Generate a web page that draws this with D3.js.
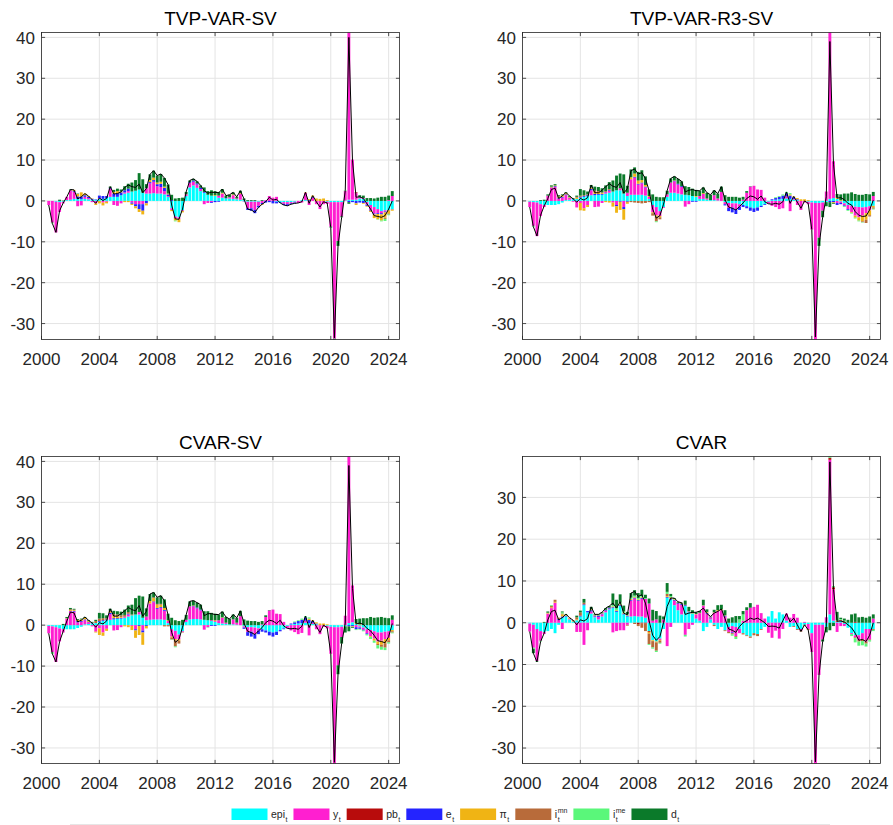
<!DOCTYPE html>
<html>
<head>
<meta charset="utf-8">
<script src="https://cdn.jsdelivr.net/npm/d3@7"></script>
<style>
  body { margin: 0; background: #fff; }
  svg { display: block; font-family: "Liberation Sans", Arial, sans-serif; }
</style>
</head>
<body>
<svg id="chart" width="893" height="825"></svg>
<script>
// quarterly historical decomposition, 2000Q3 .. 2024Q2 (one row per year)
const FIRST_QUARTER = 2000.5;
const N_QUARTERS = 96;

const xTicks = [2000, 2004, 2008, 2012, 2016, 2020, 2024];
const yTicks = [-30, -20, -10, 0, 10, 20, 30, 40];

const seriesKeys = ["epi", "y", "pb", "e", "pi", "imn", "ime", "d"];
const seriesColors = ["#00ffff", "#ff1fd0", "#b80c0c", "#2424ff", "#f0b414", "#b86b3a", "#5af77a", "#0b7a2a"];
const legendLabels = [
  { base: "epi", sub: "t" }, { base: "y", sub: "t" }, { base: "pb", sub: "t" }, { base: "e", sub: "t" },
  { base: "π", sub: "t" }, { base: "i", sub: "t", sup: "mn" }, { base: "i", sub: "t", sup: "me" }, { base: "d", sub: "t" }
];

// ---------- TVP-VAR-SV ----------
const tvpEpi = [
  0, 0,
  -0.2, -0.3, -0.2, 0.2,
  0.3, 0.5, 0.5, 0.4,
  0.5, 0.4, 0.3, 0.3,
  0.5, 0.5, 0.7, 1.0,
  1.0, 1.0, 1.4, 1.8,
  2.0, 2.3, 2.5, 2.8,
  2.0, 1.8, 1.8, 1.9,
  1.8, 1.8, 1.6, 1.0,
  -1.8, -3.8, -4.0, -2.3,
  1.2, 3.3, 3.8, 3.2,
  2.4, 2.0, 1.5, 1.3,
  1.2, 0.8, 0.8, 0.6,
  0.6, 0.5, 0.4, 0.3,
  0.2, -0.2, -0.2, -0.2,
  -0.2, 0, 0, 0,
  0, -0.2, -0.3, -0.3,
  -0.3, -0.3, -0.2, 0,
  0.2, 0.2, 0, 0,
  0, 0, 0, -0.2,
  -0.3, -0.3, -0.3, -0.3,
  0.1, 0.3, 0.3, 0.3,
  0.6, 0.5, -0.3, -1.0,
  -1.5, -2.0, -2.5, -2.3,
  -2.2, -2.0
];
const tvpY = [
  -1.0, -5.3,
  -7.5, -2.4, -0.4, 0.8,
  2.3, 1.7, -1.3, -1.1,
  0.5, 0.3, -0.3, -0.6,
  0.2, -0.4, -0.2, 2.0,
  -1.0, -1.2, -0.6, 0.3,
  0.4, -0.4, -0.8, -0.8,
  -0.8, 1.3, 2.5, 2.8,
  1.8, 1.6, 0.8, 0.2,
  -0.4, -0.4, -0.4, -0.2,
  0.4, 1.1, 0.9, 0.8,
  0.5, -0.8, -0.5, -0.3,
  0.0, 0.5, 1.0, 0.0,
  0.3, 0.9, 0.2, 1.4,
  0.0, -1.6, -1.6, -2.0,
  -1.0, -0.5, 0.2, 1.2,
  0.8, 1.0, 0, -0.4,
  -0.5, -0.3, -0.2, -0.5,
  -0.4, 1.8, -1.0, 0.8,
  -0.8, -2.0, -0.8, -0.5,
  -6.0, -33.4, -9.5, -3.5,
  2.3, 40.9, 9.8, 1.6,
  0.3, 0.2, -0.6, -1.2,
  -1.6, -1.0, -0.5, -0.3,
  0.2, 1.2
];
const tvpPb = [
  0, 0,
  0, 0, 0, 0,  0, 0, 0, 0,  0, 0, 0, 0,  0, 0, 0, 0,  0, 0, 0, 0,
  0, 0, 0, 0,  0, 0, 0, 0,  0, 0, 0, 0,  0, 0, 0, 0,  0, 0, 0, 0,
  0, 0, 0, 0,  0, 0, 0, 0,  0, 0, 0, 0,  0, 0, 0, 0,  0, 0, 0, 0,
  0, 0, 0, 0,  0, 0, 0, 0,  0, 0, 0, 0,  0, 0, 0, 0,  0, 0, 0, 0,
  0, 0, 0, 0.2,
  0, 0, 0, 0,
  0, 0, 0, 0,
  0, 0
];
const tvpE = [
  0, 0,
  0, 0, 0, 0,
  0, 0.2, 0.6, 0.7,
  0.4, 0.3, 0.2, 0.1,
  0.6, 0.7, 0.5, 0.2,
  0.8, 0.9, 0.7, 0.5,
  0.6, -0.3, -0.5, -1.2,
  -1.6, -0.6, 0.3, 0.4,
  0.5, 0.8, 0.8, 0.4,
  0.2, 0, 0, 0,
  0, 0.2, 0.3, 0.3,
  0.3, 0.2, 0, -0.2,
  -0.3, -0.2, 0, 0.1,
  0, 0, 0, 0,
  -0.1, -0.4, -0.6, -0.8,
  -0.4, -0.3, -0.4, -0.3,
  -0.6, -0.4, -0.2, -0.3,
  -0.4, -0.2, -0.2, 0,
  0, 0, 0.2, 0.2,
  0, 0, 0, 0,
  0, 0, 0, 0,
  0, -0.3, -0.3, -0.6,
  -0.4, -0.5, -0.3, -0.2,
  -0.2, -0.2, -0.3, -0.2,
  -0.1, -0.1
];
const tvpPi = [
  0, 0,
  0, 0, 0, 0,
  0, 0.3, 0.6, 1.0,
  0.4, 0.2, 0.1, -0.4,
  -0.6, -0.7, -0.4, 0,
  0.4, 0.5, 0.2, -0.3,
  -0.3, -0.3, -0.5, -0.7,
  -0.9, -0.5, 0.5, 0.6,
  0.4, 0.5, 0.3, 0.2,
  -0.3, -0.6, -0.8, -0.3,
  0, 0, 0, 0,
  0, 0, 0, 0,
  0.2, 0, 0.2, 0,
  0, 0.2, 0, 0.2,
  0, 0, 0, 0,
  0, -0.2, 0, 0,
  0, 0, 0, 0,
  0, 0, 0, 0,
  0, 0.1, 0.2, 0.3,
  0.6, 0.5, 0.6, 0.2,
  0, 0, 0, 0,
  0, 0, 0, -0.4,
  0, -0.2, -0.2, -0.3,
  -0.9, -1.3, -1.5, -1.3,
  -0.8, -0.3
];
const tvpImn = [
  0, 0,
  0, 0, 0, 0,  0, 0, 0, 0,  0, 0, 0, 0,  0, 0, 0, 0,  0, 0, 0, 0,
  0, 0, 0, 0,  0, 0, 0, 0,  0, 0, 0, 0,  0, 0, 0, 0,  0, 0, 0, 0,
  0, 0, 0, 0,  0, 0, 0, 0,  0, 0, 0, 0,  0, 0, 0, 0,  0, 0, 0, 0,
  0, 0, 0, 0,  0, 0, 0, 0,  0, 0, 0, 0,  0, 0, 0, 0,  0, 0, 0, 0,
  0, 0, 0, 0,
  0, 0, 0, 0,
  0, 0, 0, -0.3,
  -0.2, 0
];
const tvpIme = [
  0, -0.2,
  0, 0, 0, 0,  0, 0, 0, 0,  0, 0, 0, 0,  0, 0, 0, 0,  0, 0, 0, 0,
  0, 0, 0, 0,  0, 0, 0, 0,  0, 0, 0, 0,
  0, -0.2, 0, 0,
  0, 0, 0, 0,
  0, 0, 0, 0,  0, 0, 0, 0,  0, 0, 0, 0,  0, 0, 0, 0,  0, 0, 0, 0,
  0, 0, 0, 0,  0, 0, 0, 0,  0, 0, 0, 0,  0, 0, 0, 0,  0, 0, 0, 0,
  0, 0, 0, 0,
  0, 0, 0, 0,
  0, -0.1, -0.2, -0.5,
  -0.2, 0
];
const tvpD = [
  0, 0,
  0, 0.3, 0.1, 0,
  0.2, 0, 0.1, 0,
  0, 0, 0, 0,
  0, 0, 0, 0.3,
  0.5, 0.6, 0.5, 1.0,
  1.2, 2.2, 2.6, 4.0,
  3.3, 1.0, 1.4, 1.7,
  1.7, 1.9, 2.1, 2.2,
  1.3, 0.6, 0.7, 0.8,
  0.6, 0.4, 0.4, 0.5,
  0.6, 1.1, 0.9, 1.3,
  1.0, 0.9, 0.9, 0.6,
  0.6, 0.5, 0.4, 0.6,
  0.4, 0.2, 0.2, 0.2,
  0, 0.2, 0, 0,
  0, 0, 0, 0,
  0, 0, 0, 0,
  0, 0, 0, 0,
  0, 0, 0, 0,
  -0.2, -0.2, -1.2, -0.2,
  0.1, -0.4, 0, 0,
  0.5, 0.6, 0.7, 0.7,
  0.6, 0.8, 1.0, 1.0,
  1.1, 1.2
];
const tvpTotal = [
  -1.0, -5.5,
  -7.7, -2.4, -0.5, 1.0,
  2.8, 2.7, 0.5, 1.0,
  1.8, 1.2, 0.3, -0.6,
  0.7, 0.1, 0.6, 3.5,
  1.7, 1.8, 2.2, 3.3,
  3.9, 3.5, 3.3, 4.1,
  2.0, 3.0, 6.5, 7.4,
  6.2, 6.6, 5.6, 4.0,
  -1.0, -4.4, -4.5, -2.0,
  2.2, 5.0, 5.4, 4.8,
  3.8, 2.5, 1.9, 2.1,
  2.1, 2.0, 2.9, 1.3,
  1.5, 2.1, 1.0, 2.5,
  0.5, -2.0, -2.2, -2.8,
  -1.6, -0.8, -0.2, 0.9,
  0.2, 0.4, -0.5, -1.0,
  -1.2, -0.8, -0.6, -0.5,
  -0.2, 2.1, -0.6, 1.3,
  -0.2, -1.5, -0.2, -0.5,
  -6.5, -33.5, -11.0, -4.0,
  2.5, 40.0, 9.8, 0.9,
  1.0, 0.6, -0.7, -2.0,
  -3.6, -3.8, -4.0, -3.6,
  -2.0, 0.0
];

// ---------- TVP-VAR-R3-SV ----------
const r3Epi = [
  -0.2, -0.3,
  -0.4, -0.8, -1.0, -1.0,
  -1.0, -1.0, -0.8, -0.4,
  0.2, 0.3, 0.4, 0.5,
  0.8, 1.0, 1.2, 1.4,
  1.4, 1.5, 1.5, 1.8,
  2.0, 2.3, 2.6, 2.6,
  1.8, 1.2, 1.5, 1.5,
  1.5, 1.5, 1.3, 0.5,
  -1.0, -1.5, -2.5, -1.5,
  1.0, 2.0, 2.0, 1.8,
  1.6, 1.5, 1.4, 1.2,
  1.0, 0.5, 0.5, 0.3,
  0.2, 0.2, 0.1, 0,
  -0.3, -0.5, -0.6, -0.6,
  -0.8, -1.0, -1.3, -1.6,
  -1.8, -1.6, -1.2, -0.8,
  -0.2, 0.2, 0.3, 0.4,
  0.5, 0.6, 0.5, 0.3,
  0.2, 0, 0, -0.2,
  -0.4, -0.5, -0.5, -0.4,
  -0.3, 0.5, 0.7, 0.5,
  -0.2, -0.6, -1.0, -1.2,
  -1.4, -1.5, -1.6, -1.5,
  -1.3, -1.2
];
const r3Y = [
  -1.3, -5.8,
  -8.2, -2.9, -0.5, 1.3,
  3.2, 3.4, 0.6, 0.8,
  1.2, 0.4, -0.2, -1.6,
  -0.5, -1.8, -1.0, 1.2,
  -1.5, -1.4, -0.5, 0.3,
  0.5, -0.4, -1.0, 0.5,
  -1.5, 0.8, 3.8, 4.2,
  2.5, 2.8, 2.0, 0.5,
  -1.8, -2.0, -1.2, -0.2,
  0.6, 2.5, 2.8, 2.2,
  1.8, -1.4, -0.8, 0.0,
  0.0, 0.7, 1.2, 0.3,
  0.0, 1.2, 0.5, 2.2,
  -0.5, -1.2, -1.0, -1.4,
  -0.6, 0.3, 2.0, 3.5,
  3.7, 2.8, 2.7, 0.8,
  -0.5, -1.2, -1.5, -2.0,
  -1.8, 0.5, -2.5, 0.2,
  -1.0, -2.2, -0.4, -0.6,
  -6.6, -33.4, -8.5, -2.0,
  2.3, 40.7, 9.0, -0.5,
  -0.3, -0.5, -1.0, -1.5,
  -2.2, -2.5, -2.0, -1.5,
  -1.0, 1.2
];
const r3Pb = [
  0, 0,
  0, 0, 0, 0,  0, 0, 0, 0,  0, 0, 0, 0,  0, 0, 0, 0,  0, 0, 0, 0,
  0, 0, 0, 0,  0, 0, 0, 0,  0, 0, 0, 0,  0, 0, 0, 0,  0, 0, 0, 0,
  0, 0, 0, 0,  0, 0, 0, 0,  0, 0, 0, 0,  0, 0, 0, 0,  0, 0, 0, 0,
  0, 0, 0, 0,  0, 0, 0, 0,  0, 0, 0, 0,  0, 0, 0, 0,  0, 0, 0, 0,
  0, 0, 0, 0,  0, 0, 0, 0,  0, 0, 0, 0,
  0, 0
];
const r3E = [
  0, 0,
  0, 0, 0, 0,
  0.1, 0.2, 0.2, 0.2,
  0.2, 0.1, 0.1, 0,
  0.2, 0.2, 0.2, 0.3,
  0.3, 0.2, 0.2, 0.1,
  0.2, 0, -0.3, -0.2,
  -0.5, -0.2, 0, 0.2,
  0.2, 0.2, 0.2, 0,
  0, 0, 0, 0,
  0, 0, 0.1, 0.2,
  0.2, 0, 0, -0.2,
  -0.2, 0, 0, 0,
  0, 0, 0, 0,
  -0.3, -0.8, -1.2, -1.2,
  -0.8, -0.5, -0.5, -0.8,
  -0.9, -0.8, -0.3, -0.2,
  0, 0.2, 0.4, 0.6,
  0.8, 0.8, 0.8, 0.4,
  0.2, 0, 0, 0,
  0, 0, 0, 0,
  0, -0.3, -0.3, -0.5,
  -0.3, -0.2, -0.2, 0,
  0, 0, 0, 0,
  0, 0
];
const r3Pi = [
  0, 0,
  0, 0, 0, 0,
  0.2, 0.2, 0.3, 0.4,
  0.3, 0.2, 0, 0.3,
  -1.8, -0.6, -0.5, 0.2,
  0.5, 0.5, 0.2, -0.3,
  -0.4, -1.0, -1.6, -2.0,
  -2.6, -0.5, 0.5, 0.8,
  0.8, 0.6, 0.4, 0.2,
  -0.2, -0.3, -0.3, 0,
  0, 0, 0.1, 0,
  0, 0, 0, 0,
  0.2, 0, 0.2, 0,
  0, 0, 0, 0,
  0, 0, 0, 0,
  0, 0, 0, 0,
  0, 0, 0, 0,
  0, 0, 0, 0,
  0, 0, 0.3, 0.2,
  0.3, 0.4, 0.4, 0.2,
  0, 0, 0, 0,
  0, 0, -0.2, 0.3,
  0.2, 0, 0, -0.2,
  -0.5, -0.8, -1.4, -1.6,
  -1.2, -0.4
];
const r3Imn = [
  0, 0,
  0, 0, 0, 0,
  0, 0, 0, 0,
  0, 0, 0, 0.2,
  0.3, 0.2, 0.2, 0.2,
  0.3, 0.2, 0.2, 0.2,
  0.2, 0, 0, 0,
  0, 0, -0.3, -0.4,
  -0.5, -0.6, -0.5, -0.3,
  -0.6, -1.2, -0.5, 0,
  0, 0, 0, 0,  0, 0, 0, 0,  0, 0, 0, 0,  0, 0, 0, 0,  0, 0, 0, 0,
  0, 0, 0, 0,  0, 0, 0, 0,  0, 0, 0, 0,  0, 0, 0, 0,  0, 0, 0, 0,
  0, 0, 0, 0,  0, 0, 0, 0,  0, 0, 0, 0,
  0, 0, -0.2, -0.8,
  -0.3, -0.3
];
const r3Ime = [
  0, -0.2,
  0, 0, 0, 0,  0, 0, 0, 0,  0, 0, 0, 0,  0, 0, 0, 0,  0, 0, 0, 0,
  0, 0, 0, 0,  0, 0, 0, 0,  0, 0, 0, 0,
  0, -0.2, 0, 0,
  0, 0, 0, 0,  0, 0, 0, 0,  0, 0, 0, 0,  0, 0, 0, 0,  0, 0, 0, 0,
  0, 0, 0, 0,  0, 0, 0, 0,
  0, 0, 0.2, 0.2,
  0.3, 0.3, 0.3, 0,
  0, 0, 0, 0,
  0, 0, 0, 0,
  0, 0, 0, 0,
  0, -0.2, -0.2, -0.2,
  -0.2, -0.2, -0.1, 0,
  0, -0.2
];
const r3D = [
  0, 0,
  0, 0.2, 0.3, 0.3,
  0.3, 0.3, 0.3, 0.2,
  0.2, 0.2, 0.2, 0.3,
  1.6, 1.2, 0.7, 0.6,
  1.0, 1.0, 1.0, 1.4,
  1.7, 2.7, 3.6, 3.6,
  4.7, 1.7, 1.9, 1.5,
  2.1, 2.4, 2.1, 1.6,
  1.6, 1.0, 0.9, 0.9,
  0.9, 1.0, 1.0, 1.2,
  1.2, 2.1, 2.0, 1.8,
  1.5, 1.3, 1.4, 1.4,
  1.3, 1.2, 1.2, 1.3,
  1.4, 1.0, 1.0, 1.0,
  0.8, 0.7, 0.4, 0.1,
  0, 0, 0, 0,
  0, 0, 0, 0,
  0, 0, 0, 0,
  0, 0, 0, 0,
  0, 0, -2.0, -1.6,
  -1.0, -1.2, -0.2, 0.9,
  1.4, 1.8, 1.8, 2.1,
  1.7, 1.5, 1.5, 1.7,
  1.6, 1.0
];
const r3Total = [
  -1.5, -6.3,
  -8.6, -3.5, -1.2, 0.6,
  2.8, 3.1, 0.6, 1.2,
  2.1, 1.2, 0.5, -0.3,
  0.6, 0.2, 0.8, 3.9,
  2.0, 2.0, 2.6, 3.5,
  4.2, 3.6, 3.3, 4.5,
  1.9, 3.0, 7.4, 7.8,
  6.6, 6.9, 5.5, 2.5,
  -2.0, -4.2, -3.6, -0.8,
  2.5, 5.5, 6.0, 5.4,
  4.8, 2.2, 2.6, 2.8,
  2.5, 2.5, 3.3, 2.0,
  1.5, 2.6, 1.8, 3.5,
  0.3, -1.5, -1.8, -2.2,
  -1.4, -0.5, 0.6, 1.2,
  1.0, 0.4, 1.2, -0.2,
  -0.7, -0.8, -0.6, -0.8,
  -0.2, 2.2, -0.6, 1.1,
  -0.3, -1.8, 0.0, -0.6,
  -7.0, -33.3, -11.0, -4.0,
  1.0, 39.0, 9.0, 0.7,
  0.8, 0.3, -0.6, -1.0,
  -2.6, -3.5, -3.8, -3.7,
  -2.2, 0.2
];

// ---------- CVAR-SV ----------
const svEpi = [
  -0.2, -0.3,
  -0.5, -0.8, -1.0, -1.0,
  -1.0, -1.0, -0.7, -0.4,
  0.2, 0.3, 0.4, 0.5,
  0.8, 1.0, 1.2, 1.3,
  1.4, 1.5, 1.6, 1.8,
  2.1, 2.4, 2.6, 2.6,
  1.8, 1.2, 1.3, 1.4,
  1.4, 1.4, 1.3, 0.5,
  -1.0, -1.4, -2.3, -1.5,
  0.8, 1.4, 1.5, 1.5,
  1.4, 1.3, 1.2, 1.0,
  0.8, 0.5, 0.4, 0.3,
  0.2, 0.2, 0.1, 0,
  -0.3, -0.5, -0.5, -0.6,
  -0.8, -1.0, -1.3, -1.6,
  -1.8, -1.6, -1.2, -0.8,
  -0.2, 0.2, 0.3, 0.4,
  0.5, 0.6, 0.5, 0.3,
  0.2, 0, 0, -0.2,
  -0.4, -0.5, -0.5, -0.4,
  -0.3, 0.5, 0.7, 0.3,
  -0.3, -0.6, -1.0, -1.2,
  -1.5, -1.8, -1.8, -1.6,
  -1.5, -1.2
];
const svY = [
  -1.8, -6.3,
  -8.5, -3.2, -0.8, 1.6,
  3.4, 3.3, 0.7, 0.8,
  1.0, 0.4, -0.3, -1.6,
  -0.8, -1.8, -0.9, 1.4,
  -1.3, -1.2, -0.5, 0.2,
  0.5, -0.2, -1.0, 0.6,
  -1.3, 0.9, 4.0, 4.2,
  2.6, 2.8, 2.2, 0.5,
  -1.8, -2.0, -1.2, -0.2,
  0.5, 3.2, 3.1, 2.6,
  2.2, -1.1, -0.5, 0.2,
  0.2, 0.7, 1.4, 0.3,
  0, 1.2, 0.5, 2.2,
  -0.3, -1.2, -1.1, -1.6,
  -0.5, 0.2, 2.0, 3.6,
  3.8, 2.8, 2.7, 0.8,
  -0.6, -1.3, -1.7, -2.2,
  -1.9, 0.5, -2.5, 0.3,
  -1.0, -2.2, -0.4, -0.6,
  -6.6, -33.3, -9.3, -2.5,
  2.3, 40.7, 9.0, -0.5,
  -0.3, -0.5, -1.0, -1.5,
  -1.8, -2.2, -2.0, -1.8,
  -1.6, 1.3
];
const svPb = [
  0, 0,
  0, 0, 0, 0,  0, 0, 0, 0,  0, 0, 0, 0,  0, 0, 0, 0,  0, 0, 0, 0,
  0, 0, 0, 0,  0, 0, 0, 0,  0, 0, 0, 0,  0, 0, 0, 0,  0, 0, 0, 0,
  0, 0, 0, 0,  0, 0, 0, 0,  0, 0, 0, 0,  0, 0, 0, 0,  0, 0, 0, 0,
  0, 0, 0, 0,  0, 0, 0, 0,  0, 0, 0, 0,  0, 0, 0, 0,  0, 0, 0, 0,
  0, 0, 0, 0,  0, 0, 0, 0,  0, 0, 0, 0,
  0, 0
];
const svE = [
  0, 0,
  0, 0, 0, 0,
  0.1, 0.2, 0.3, 0.2,
  0.2, 0.1, 0.1, 0,
  0.2, 0.2, 0.2, 0.3,
  0.3, 0.2, 0.2, 0.1,
  0.2, 0, -0.3, -0.2,
  -0.5, -0.2, 0, 0.2,
  0.2, 0.2, 0.2, 0,
  0, 0, 0, 0,
  0, 0, 0.1, 0.2,
  0.2, 0, 0, -0.2,
  -0.2, 0, 0, 0,
  0, 0, 0, 0,
  -0.3, -0.9, -1.2, -1.1,
  -0.9, -0.6, -0.5, -0.9,
  -1.0, -0.8, -0.3, -0.2,
  0, 0.2, 0.4, 0.6,
  0.8, 0.8, 0.8, 0.4,
  0.2, 0, 0, 0,
  0, 0, 0, 0,
  0, -0.3, -0.3, -0.5,
  -0.3, -0.2, -0.2, 0,
  0, 0, 0, 0,
  0, 0
];
const svPi = [
  0, 0,
  0, 0, 0, 0.1,
  0.2, 0.2, 0.3, 0.4,
  0.4, 0.2, 0, -0.2,
  -1.6, -0.8, -0.5, 0.2,
  0.5, 0.4, 0.2, -0.3,
  -0.5, -1.0, -1.8, -2.2,
  -3.0, -0.6, 0.6, 0.8,
  0.8, 0.6, 0.5, 0.2,
  -0.2, -0.3, -0.3, 0,
  0, 0, 0.1, 0,
  0, 0, 0, 0,
  0.2, 0, 0.1, 0,
  0, 0, 0, 0,
  0, 0, 0, 0,
  0, 0, 0, 0,
  0, 0, 0, 0,
  0, 0, 0, 0,
  0, 0, 0.3, 0.2,
  0.3, 0.4, 0.4, 0.2,
  0, 0, 0, 0,
  0, 0, -0.2, 0.2,
  0.2, 0, 0, -0.2,
  -0.5, -0.6, -1.0, -1.0,
  -0.6, -0.3
];
const svImn = [
  0, 0,
  0, 0, 0, 0,
  0.2, 0.1, 0, 0,
  0, 0, 0.1, 0.5,
  0.6, 0.5, 0.3, 0.3,
  0.5, 0.5, 0.4, 0.4,
  0.4, 0.2, 0, 0,
  0, 0, 0, 0.2,
  0.2, 0.2, -0.3, -0.3,
  -0.5, -1.5, -0.7, -0.1,
  0, 0, 0, 0,  0, 0, 0, 0,  0, 0, 0, 0,  0, 0, 0, 0,  0, 0, 0, 0,
  0, 0, 0, 0,  0, 0, 0, 0,  0, 0, 0, 0,  0, 0, 0, 0,  0, 0, 0, 0,
  0, 0, 0, 0,  0, 0, 0, 0,  0, 0, 0, 0,
  0, -0.3, -0.5, -1.1,
  -0.5, -0.3
];
const svIme = [
  0, -0.4,
  0, 0, 0, 0,  0, 0, 0, 0,  0, 0, 0, 0,  0, 0, 0, 0,  0, 0, 0, 0,
  0, 0, 0, 0,  0, 0, 0, 0,  0, 0, 0, 0,
  -0.1, -0.2, 0, 0,
  0, 0, 0, 0,
  0, 0, -0.1, 0,
  0, 0, 0, 0,  0, 0, 0, 0,  0, 0, 0, 0,  0, 0, 0, 0,  0, 0, 0, 0,
  0, 0, 0.2, 0.2,
  0.3, 0.3, 0.3, 0,
  0, 0, 0, 0,
  0, 0, 0, 0,
  0, 0, 0, -0.2,
  -0.2, -0.2, -0.3, -0.5,
  -0.5, -0.8, -0.7, -0.6,
  -0.3, -0.2
];
const svD = [
  0, 0,
  0, 0, 0.3, 0.3,
  0.3, 0.2, 0.2, 0.2,
  0.2, 0.2, 0.2, 0.3,
  1.4, 1.2, 0.7, 0.5,
  0.8, 0.8, 0.9, 1.3,
  1.6, 2.4, 4.0, 4.0,
  5.2, 2.0, 1.7, 1.2,
  1.6, 2.0, 2.1, 1.6,
  1.8, 1.2, 1.0, 1.3,
  1.2, 1.2, 1.2, 1.2,
  1.2, 2.1, 2.2, 1.8,
  1.6, 1.4, 1.4, 1.4,
  1.3, 1.2, 1.2, 1.3,
  1.4, 1.1, 1.0, 1.0,
  0.8, 0.8, 0.4, 0.1,
  0, 0, 0, 0,
  0, 0, 0, 0,
  0, 0, 0, 0,
  0, 0, 0, 0,
  0, 0, -2.2, -1.6,
  -1.5, -1.2, -0.2, 1.0,
  1.4, 1.7, 1.7, 2.0,
  1.8, 1.9, 2.0, 1.8,
  1.7, 1.1
];
const svTotal = [
  -2.0, -7.0,
  -9.0, -4.0, -1.5, 1.0,
  3.2, 3.0, 0.8, 1.2,
  2.0, 1.2, 0.5, -0.5,
  0.6, 0.3, 1.0, 4.0,
  2.2, 2.2, 2.8, 3.5,
  4.3, 3.8, 3.5, 4.8,
  2.2, 3.3, 7.6, 8.0,
  6.8, 7.2, 6.0, 2.5,
  -1.8, -4.2, -3.5, -0.5,
  2.5, 5.8, 6.0, 5.5,
  5.0, 2.3, 2.8, 2.8,
  2.6, 2.6, 3.3, 2.0,
  1.5, 2.6, 1.8, 3.5,
  0.5, -1.5, -1.8, -2.3,
  -1.4, -0.6, 0.6, 1.2,
  1.0, 0.4, 1.2, -0.2,
  -0.8, -0.9, -0.8, -1.0,
  -0.3, 2.2, -0.6, 1.2,
  -0.3, -1.8, 0.0, -0.6,
  -7.0, -33.5, -12.0, -4.5,
  0.5, 39.0, 9.0, 0.3,
  0.5, 0.2, -0.8, -1.4,
  -2.5, -3.8, -4.0, -4.3,
  -2.8, 0.4
];

// ---------- CVAR ----------
const cvEpi = [
  -0.2, -0.5,
  -1.5, -2.0, -2.2, -2.0,
  -1.5, -2.5, -0.5, 1.2,
  1.5, 0.8, 0.3, 0.6,
  1.5, 4.2, 2.5, 2.2,
  1.3, 0.8, 1.5, 2.5,
  3.2, 3.5, 2.6, 4.0,
  2.0, 1.5, 1.5, 1.6,
  1.5, 1.5, 1.2, -2.0,
  -4.2, -4.5, -3.8, -1.5,
  6.0, 5.5, 4.2, 3.0,
  2.0, 4.0, 2.5, 2.2,
  1.0, 0.5, -2.0, -1.0,
  0.8, -0.5, -1.5, -1.0,
  -1.8, -1.0, -0.8, -1.0,
  -1.5, -2.5, -3.0, -3.3,
  -2.5, -2.7, -1.5, -1.0,
  1.5, 2.8, 1.0, 2.5,
  2.0, 0.5, -1.0, -0.8,
  -1.5, -1.5, -0.5, -0.3,
  -2.5, -0.5, -0.5, -0.5,
  -1.0, 2.0, 0.5, 0.2,
  0.5, -0.3, -1.2, -2.5,
  -3.0, -3.0, -2.5, -1.5,
  -1.5, -1.5
];
const cvY = [
  -1.9, -5.5,
  -7.7, -2.3, -0.5, 2.2,
  3.5, 4.8, 0.7, -1.5,
  0, 0.2, 0, -2.2,
  -2.2, -5.3, -1.8, 0.5,
  0.2, 0.6, 0.5, 0.3,
  0.2, -2.3, -2.0, -1.8,
  -1.8, -0.5, 3.8, 4.2,
  3.7, 4.2, 4.5, 4.6,
  0.5, 0.8, -0.3, 0.8,
  -5.6, -1.0, 1.0, 1.5,
  2.3, -2.9, -1.5, -0.5,
  1.0, 1.8, 4.0, 2.2,
  0.3, 2.4, 2.8, 3.0,
  1.5, -1.2, -1.5, -2.2,
  -1.0, 0.5, 3.0, 3.6,
  3.8, 4.3, 2.3, 1.0,
  -2.4, -3.6, -1.9, -3.8,
  -1.5, 1.7, 1.2, 2.1,
  1.2, -0.4, 0.2, -1.2,
  -4.5, -33.2, -12.0, -3.5,
  1.3, 37.0, 7.5, -2.2,
  -0.8, -0.5, 0, -0.2,
  -0.5, -1.2, -1.5, -3.0,
  -2.5, 1.0
];
const cvPb = [
  0, 0,
  0, 0, 0, 0,  0, 0, 0, 0,  0, 0, 0, 0,  0, 0, 0, 0,  0, 0, 0, 0,
  0, 0, 0, 0,  0, 0, 0, 0,
  -0.3, -0.2, -0.2, -0.2,
  0, 0, 0, 0,  0, 0, 0, 0,  0, 0, 0, 0,  0, 0, 0, 0,  0, 0, 0, 0,
  0, 0, 0, 0,  0, 0, 0, 0,  0, 0, 0, 0,  0, 0, 0, 0,  0, 0, 0, 0,
  0, 0, 0, 0,  0, 0, 0, 0,
  0, 0.5, 0.5, 0.2,
  0.2, 0.2, 0, 0,
  0.2, 0, 0, 0,
  0, 0
];
const cvE = [
  0, 0,
  0, 0, 0, 0,
  0, 0, 0.2, 0.3,
  0.2, 0, 0, 0,
  0.2, 0.2, 0.3, 0.3,
  0.2, 0.3, 0.2, 0.2,
  0.2, 0.2, 0.2, 0.2,
  0.2, 0.2, 0.2, 0.2,
  0.2, 0.2, 0, 0,
  0, 0, 0, 0,
  0.2, 0.2, 0.2, 0.2,
  0.2, 0.2, 0.2, 0,
  0, 0, 0.1, 0.2,
  0.2, 0, 0, 0,
  0.2, 0, -0.2, 0,
  0, 0, 0, 0,  0, 0, 0, 0,  0, 0, 0, 0,  0, 0, 0, 0,  0, 0, 0, 0,
  0, 0, 0, 0,  0, 0, 0, 0,  0, 0, 0, 0,  0, 0, 0, 0,
  0, 0
];
const cvPi = [
  0, 0,
  0, 0, 0, 0.2,
  0.2, 0.2, 0.1, 0.5,
  0.2, 0.2, 0.1, 0.2,
  0, 0, 0, 0.2,
  0.1, 0.1, 0.1, 0.1,
  0, 0.2, 0.2, 0.2,
  0.2, 0.1, 0.2, 0.2,
  0.2, 0.2, 0, -0.4,
  -0.2, -0.2, -0.2, 0,
  0.2, 0.2, 0.2, 0.1,
  0.1, 0.1, 0.1, 0.1,
  0.1, 0.1, 0.1, 0.2,
  0.1, 0.1, 0.2, 0.2,
  0.1, 0, 0, 0,
  0, 0, 0, 0,  0, 0, 0, 0,  0, 0, 0, 0,  0, 0, 0, 0,  0, 0, 0, 0,
  0, 0, 0, 0,  0, 0, 0, 0,  0, 0, 0, 0,  0, 0, 0, 0,
  0, 0
];
const cvImn = [
  0, 0,
  0, 0, 0, 0,
  0.3, 0.5, 0.2, 0.2,
  0, 0, 0.2, 0.5,
  0.8, 0.4, 0, 0,
  0, 0, 0, 0,
  0, 0, 0, 0,
  0, -0.2, 0, -0.3,
  -0.5, -1.0, -1.8, -2.5,
  -1.5, -2.0, -0.5, 0,
  0.5, 0.2, 0, 0,
  0, 0, 0, 0,
  0, 0, 0, 0,
  0, -0.3, 0, 0,
  -0.2, -0.3, -0.3, -0.2,
  0, -0.3, -0.2, -0.3,
  -0.5, -0.5, -0.2, 0,
  0, 0, 0, 0,
  0, 0, 0, -0.2,
  -0.2, -0.2, -0.2, -0.2,
  0, 0, 0, 0,
  0, 0, 0, 0,
  0, 0, 0, 0,
  -0.2, -0.3, -0.4, -0.5,
  -0.2, -0.2
];
const cvIme = [
  0, -0.3,
  -0.2, -0.2, 0, 0,
  0.2, 0, 0, 0.3,
  0.2, 0, 0, 0,
  0, 0, 0, 0,
  0, 0, 0, 0,
  0, 0.3, 0.5, 0.4,
  0.3, 0.3, 0.3, 0.3,
  0.3, 0.3, 0.2, -0.2,
  -0.3, -0.3, -0.2, 0,
  0.5, 0.3, 0.1, 0,
  0, -0.4, 0, 0,
  0, 0, 0, 0,
  0, 0, 0, 0,
  0, 0, -0.3, -0.5,
  0.8, 1.5, 0, 0,
  0, 0, 0, 0,
  0, 0, 0, 0,
  0, 0, 0, 0,
  0, 0, 0, 0,
  0, 0, 0, 0,
  0, 0.3, 0.3, 0.2,
  0.2, 0.3, 0, -0.5,
  -1.0, -1.0, -1.0, -0.7,
  -0.3, -0.3
];
const cvD = [
  0, -1.0,
  0, 0, 0.2, 0.3,
  0, 0, 0, 0.2,
  0, 0, 0, 0.4,
  0.4, 0.9, 0, 0.6,
  0.2, 0.2, 0.2, 0.4,
  0.4, 2.8, 2.0, 2.0,
  1.4, 0.5, 1.1, 1.3,
  1.2, 1.5, 0.8, 1.2,
  2.6, 2.0, 1.7, 0.7,
  2.1, 0.5, 0.2, 0.2,
  0.2, 1.0, 1.0, 0.7,
  0.4, 0.4, 1.3, 0.6,
  0.1, 0.6, 1.2, 1.1,
  1.2, 1.0, 1.3, 1.6,
  0.8, 0.8, 0.7, 1.1,
  0, 0, 0, 0,
  0, 0, 0, 0,
  0, 0, 0, 0,
  0, 0, 0, 0,
  0, 0, 0, -0.5,
  -1.3, -1.8, -0.8, 2.0,
  0.3, 0.5, 0.7, 2.0,
  2.0, 1.3, 1.4, 1.2,
  1.5, 1.0
];
const cvTotal = [
  -2.1, -7.3,
  -9.4, -4.5, -2.5, 0.7,
  2.7, 3.0, 0.7, 1.2,
  2.1, 1.2, 0.6, -0.5,
  0.7, 0.4, 1.0, 3.8,
  2.0, 2.0, 2.5, 3.5,
  4.0, 4.7, 3.5, 5.0,
  2.3, 1.9, 7.1, 7.5,
  6.3, 6.7, 4.7, 0.5,
  -3.0, -4.2, -3.3, 0.0,
  3.9, 5.9, 5.9, 5.0,
  4.8, 2.0, 2.3, 2.5,
  2.5, 2.8, 3.5, 2.2,
  1.5, 2.3, 2.7, 3.3,
  1.0, -1.5, -1.8, -2.3,
  -0.9, 0.0, 0.5, 1.1,
  0.8, 1.1, 0.6, 0.0,
  -0.9, -0.8, -0.9, -1.3,
  0.5, 2.2, 0.2, 1.1,
  -0.5, -2.1, -0.5, -1.7,
  -7.0, -33.3, -12.5, -4.5,
  -1.0, 38.5, 8.0, 0.4,
  0.4, 0.2, -0.5, -1.2,
  -2.5, -4.2, -4.0, -4.5,
  -3.0, 0.0
];

const panels = [
  { title: "TVP-VAR-SV", left: 41.5, top: 32.5,
    parts: [tvpEpi, tvpY, tvpPb, tvpE, tvpPi, tvpImn, tvpIme, tvpD], total: tvpTotal },
  { title: "TVP-VAR-R3-SV", left: 522.5, top: 32.5,
    parts: [r3Epi, r3Y, r3Pb, r3E, r3Pi, r3Imn, r3Ime, r3D], total: r3Total },
  { title: "CVAR-SV", left: 41.5, top: 456.5,
    parts: [svEpi, svY, svPb, svE, svPi, svImn, svIme, svD], total: svTotal },
  { title: "CVAR", left: 522.5, top: 456.5,
    parts: [cvEpi, cvY, cvPb, cvE, cvPi, cvImn, cvIme, cvD], total: cvTotal }
];

const W = 358, H = 307;
const AXIS = "#262626", GRID = "#e4e4e4";
const quarters = d3.range(N_QUARTERS).map(i => FIRST_QUARTER + i / 4);

const svg = d3.select("#chart");
svg.append("rect").attr("width", 893).attr("height", 825).attr("fill", "#fff");

const x = d3.scaleLinear().domain([2000, 2024.75]).range([0, W]);
const barW = (x(2000.25) - x(2000)) * 0.8;

panels.forEach(p => {
  const rows = quarters.map((t, i) => {
    const r = { t: t, total: p.total[i] ?? 0 };
    seriesKeys.forEach((k, j) => { r[k] = p.parts[j][i] ?? 0; });
    return r;
  });
  const stacked = d3.stack().keys(seriesKeys).offset(d3.stackOffsetDiverging)(rows);

  const lo = Math.min(d3.min(stacked, s => d3.min(s, d => d[0])), d3.min(rows, d => d.total));
  const hi = Math.max(d3.max(stacked, s => d3.max(s, d => d[1])), d3.max(rows, d => d.total));
  const y = d3.scaleLinear().domain([lo, hi]).range([H, 0]);

  const g = svg.append("g").attr("transform", `translate(${p.left},${p.top})`);
  const ticksY = yTicks.filter(v => v >= lo && v <= hi);

  // grid
  g.append("g").selectAll("line").data(xTicks).join("line")
    .attr("x1", d => x(d)).attr("x2", d => x(d)).attr("y1", 0).attr("y2", H)
    .attr("stroke", GRID).attr("stroke-width", 1);
  g.append("g").selectAll("line").data(ticksY).join("line")
    .attr("x1", 0).attr("x2", W).attr("y1", d => y(d)).attr("y2", d => y(d))
    .attr("stroke", GRID).attr("stroke-width", 1);

  // stacked bars
  g.append("g").selectAll("g").data(stacked).join("g")
    .attr("fill", (d, i) => seriesColors[i])
    .selectAll("rect").data(d => d.filter(v => v[1] !== v[0])).join("rect")
    .attr("x", d => x(d.data.t) - barW / 2)
    .attr("width", barW)
    .attr("y", d => y(d[1]))
    .attr("height", d => Math.max(0, y(d[0]) - y(d[1])));

  // total line
  g.append("path").datum(rows)
    .attr("fill", "none").attr("stroke", "#000").attr("stroke-width", 1)
    .attr("stroke-linejoin", "round")
    .attr("d", d3.line().x(d => x(d.t)).y(d => y(d.total)));

  // frame and inward ticks on all sides
  g.append("rect").attr("width", W).attr("height", H)
    .attr("fill", "none").attr("stroke", AXIS).attr("stroke-width", 0.8);
  const tl = 3.6;
  const tk = g.append("g").attr("stroke", AXIS).attr("stroke-width", 0.8);
  xTicks.forEach(v => {
    tk.append("line").attr("x1", x(v)).attr("x2", x(v)).attr("y1", H).attr("y2", H - tl);
    tk.append("line").attr("x1", x(v)).attr("x2", x(v)).attr("y1", 0).attr("y2", tl);
  });
  ticksY.forEach(v => {
    tk.append("line").attr("x1", 0).attr("x2", tl).attr("y1", y(v)).attr("y2", y(v));
    tk.append("line").attr("x1", W).attr("x2", W - tl).attr("y1", y(v)).attr("y2", y(v));
  });

  // tick labels
  g.append("g").selectAll("text").data(xTicks).join("text")
    .attr("x", d => x(d)).attr("y", H + 25)
    .attr("text-anchor", "middle").attr("font-size", 17).attr("fill", AXIS)
    .text(d => String(d));
  g.append("g").selectAll("text").data(ticksY).join("text")
    .attr("x", -6.5).attr("y", d => y(d)).attr("dy", "0.36em")
    .attr("text-anchor", "end").attr("font-size", 17).attr("fill", AXIS)
    .text(d => String(d));

  // title
  g.append("text").attr("x", W / 2).attr("y", -8)
    .attr("text-anchor", "middle").attr("font-size", 19).attr("fill", "#000")
    .text(p.title);
});

// legend
const legend = svg.append("g");
legend.append("line").attr("x1", 70).attr("x2", 830).attr("y1", 824.5).attr("y2", 824.5)
  .attr("stroke", "#e6e6e6").attr("stroke-width", 1);
let lx = 231.5;
legendLabels.forEach((lab, i) => {
  const item = legend.append("g").attr("transform", `translate(${lx},0)`);
  item.append("rect").attr("x", 0).attr("y", 808.5).attr("width", 36).attr("height", 11.5)
    .attr("fill", seriesColors[i]);
  const base = item.append("text").attr("x", 39.5).attr("y", 817.5)
    .attr("font-size", 10.5).attr("fill", AXIS).text(lab.base);
  const bw = base.node().getComputedTextLength();
  let extra = 0;
  if (lab.sup) {
    const s = item.append("text").attr("x", 40 + bw).attr("y", 812.5)
      .attr("font-size", 7).attr("fill", AXIS).text(lab.sup);
    extra = Math.max(extra, s.node().getComputedTextLength());
  }
  const sb = item.append("text").attr("x", 40 + bw).attr("y", 821.5)
    .attr("font-size", 7).attr("fill", AXIS).text(lab.sub);
  extra = Math.max(extra, sb.node().getComputedTextLength());
  lx += 39.5 + bw + 0.5 + extra + 6;
});
</script>
</body>
</html>
